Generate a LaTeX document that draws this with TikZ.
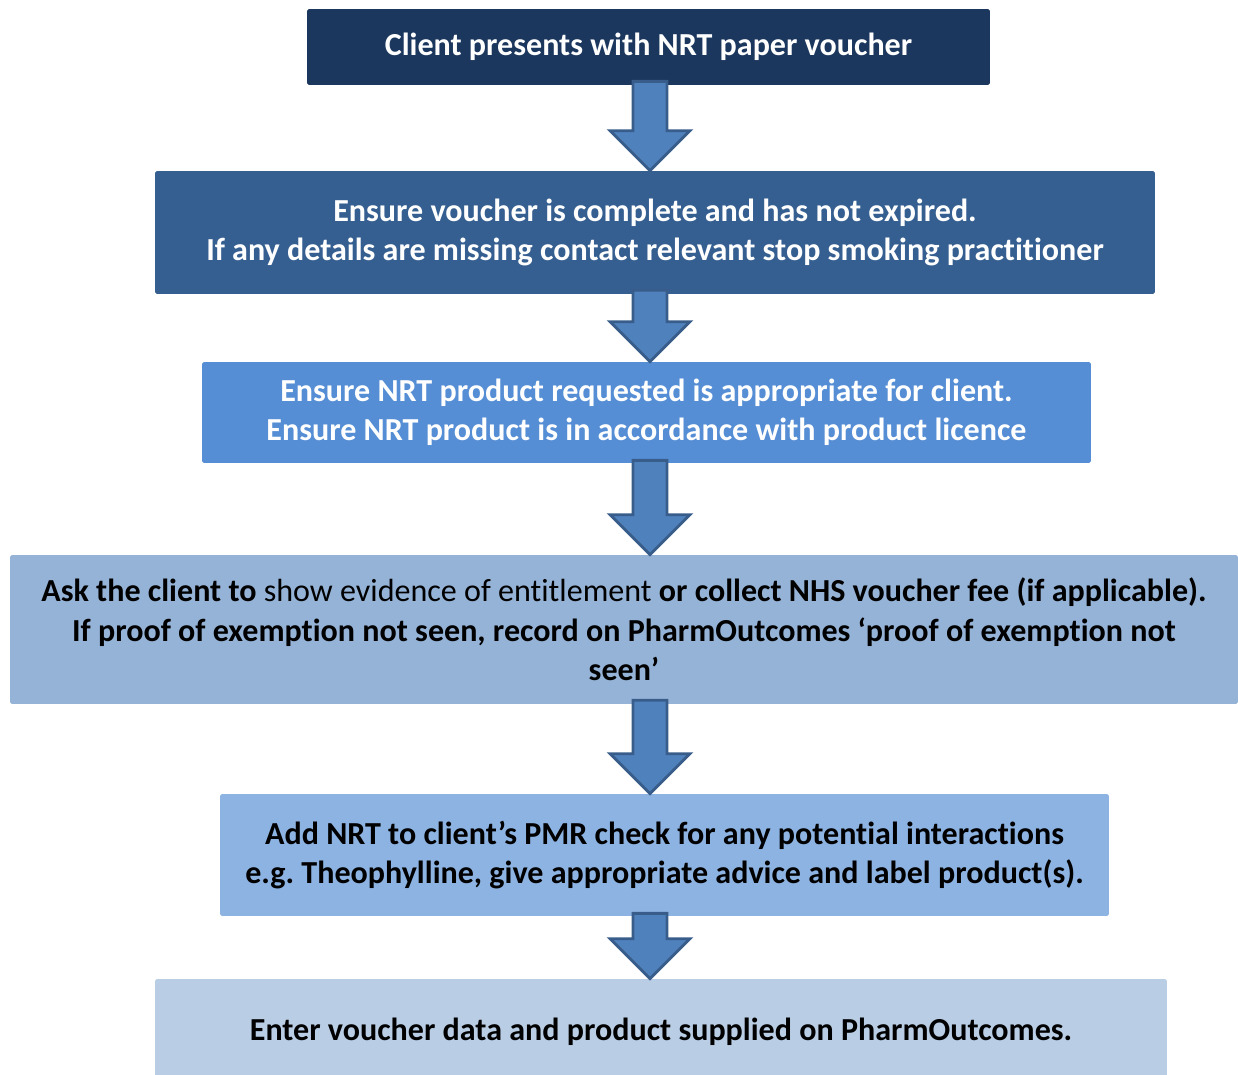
\documentclass[tikz,border=0pt]{standalone}
\usepackage{fontspec}
\setmainfont{Carlito}[Ligatures=NoCommon]
\usetikzlibrary{positioning,calc}
\frenchspacing

\definecolor{boxnavy}{HTML}{1C375E}
\definecolor{boxdark}{HTML}{365F91}
\definecolor{boxmid}{HTML}{558ED5}
\definecolor{boxgrey}{HTML}{95B3D7}
\definecolor{boxsky}{HTML}{8DB3E2}
\definecolor{boxpale}{HTML}{B9CDE5}
\definecolor{arrowfill}{HTML}{4F81BD}
\definecolor{arrowline}{HTML}{385D8A}

\tikzset{
  stepbox/.style={rectangle, rounded corners=1pt, inner sep=0pt, align=center,
    font=\fontsize{18.25}{22.4}\selectfont\bfseries},
  blockarrow/.style={fill=arrowfill, draw=arrowline, line width=1.6pt, line join=miter},
}

% block arrow from the bottom of one box to the top of the next
\newcommand{\flowarrow}[2]{%
  \draw[blockarrow] let \p1=#1, \p2=#2 in
    (\x1-0.34cm,\y1) -- (\x1+0.34cm,\y1) -- (\x1+0.34cm,\y2+0.8cm)
    -- (\x1+0.8cm,\y2+0.8cm) -- (\x1,\y2) -- (\x1-0.8cm,\y2+0.8cm)
    -- (\x1-0.34cm,\y2+0.8cm) -- cycle;}

\begin{document}
\begin{tikzpicture}[x=0.02cm,y=-0.02cm]
\useasboundingbox (0,0) rectangle (1238,1075);

\node[stepbox,fill=boxnavy,text=white,minimum width=13.66cm,minimum height=1.52cm]
  (voucher) at (648.5,47) {Client presents with NRT paper voucher};
\node[stepbox,fill=boxdark,text=white,minimum width=20cm,minimum height=2.46cm]
  (complete) at (655,232.5) {Ensure voucher is complete and has not expired.\\
  If any details are missing contact relevant stop smoking practitioner};
\node[stepbox,fill=boxmid,text=white,minimum width=17.78cm,minimum height=2.02cm]
  (product) at (646.5,412.5) {Ensure NRT product requested is appropriate for client.\\
  Ensure NRT product is in accordance with product licence};
\node[stepbox,fill=boxgrey,text=black,minimum width=24.56cm,minimum height=2.98cm]
  (evidence) at (624,629.5) {Ask the client to \mdseries show evidence of entitlement
  \bfseries or collect NHS voucher fee (if applicable).\\
  If proof of exemption not seen, record on PharmOutcomes ‘proof of exemption not\\
  seen’};
\node[stepbox,fill=boxsky,text=black,minimum width=17.78cm,minimum height=2.44cm]
  (pmr) at (664.5,855) {Add NRT to client’s PMR check for any potential interactions\\
  e.g. Theophylline, give appropriate advice and label product(s).};
\node[stepbox,fill=boxpale,text=black,minimum width=20.24cm,minimum height=2.12cm]
  (enter) at (661,1032) {Enter voucher data and product supplied on PharmOutcomes.};

\coordinate (ax) at (650,0);
\flowarrow{($(voucher.south -| ax)+(0,-4)$)}{(complete.north -| ax)}
\flowarrow{($(complete.south -| ax)+(0,-4)$)}{(product.north -| ax)}
\flowarrow{($(product.south -| ax)+(0,-3)$)}{(evidence.north -| ax)}
\flowarrow{($(evidence.south -| ax)+(0,-4)$)}{(pmr.north -| ax)}
\flowarrow{($(pmr.south -| ax)+(0,-3)$)}{(enter.north -| ax)}

\end{tikzpicture}
\end{document}
